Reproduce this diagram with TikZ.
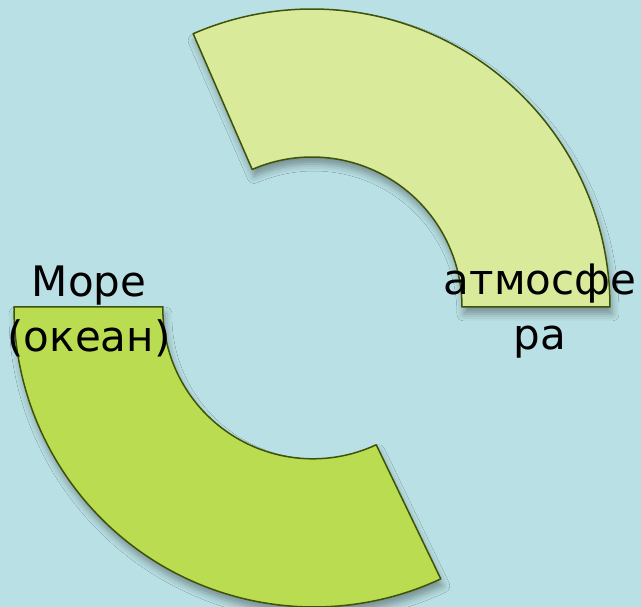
\documentclass[tikz,border=0pt]{standalone}
\usepackage{fontspec}
\setmainfont{DejaVu Sans}
\usepackage{xcolor}
\usetikzlibrary{shadows.blur}
\definecolor{bgblue}{RGB}{185,224,228}
\definecolor{lightleaf}{RGB}{217,235,155}
\definecolor{darkleaf}{RGB}{186,220,80}
\definecolor{olive}{RGB}{62,82,8}
\begin{document}
\begin{tikzpicture}[x=1pt, y=1pt,
  segment/.style={draw=olive, line width=1.5pt, line join=round,
    blur shadow={shadow xshift=2pt, shadow yshift=-7pt, shadow blur radius=7pt, shadow opacity=35}},
  label/.style={font=\fontsize{42}{55}\selectfont, align=center, text=black, inner sep=0pt}]
\useasboundingbox[fill=bgblue] (-312,-300) rectangle (329,307);
\fill[segment, fill=lightleaf] (0:150) -- (0:298) arc[start angle=0, end angle=113.5, radius=298]
  -- (113.5:150) arc[start angle=113.5, end angle=0, radius=150] -- cycle;
\fill[segment, fill=darkleaf] (180:149) -- (180:298) arc[start angle=180, end angle=295, radius=300]
  -- (295:152) arc[start angle=295, end angle=180, radius=150] -- cycle;
\node[label] (sea) at (-223,-4) {Море\\(океан)};
\node[label] (atmo) at (228,-4) {атмосфе\\ра};
\end{tikzpicture}
\end{document}
